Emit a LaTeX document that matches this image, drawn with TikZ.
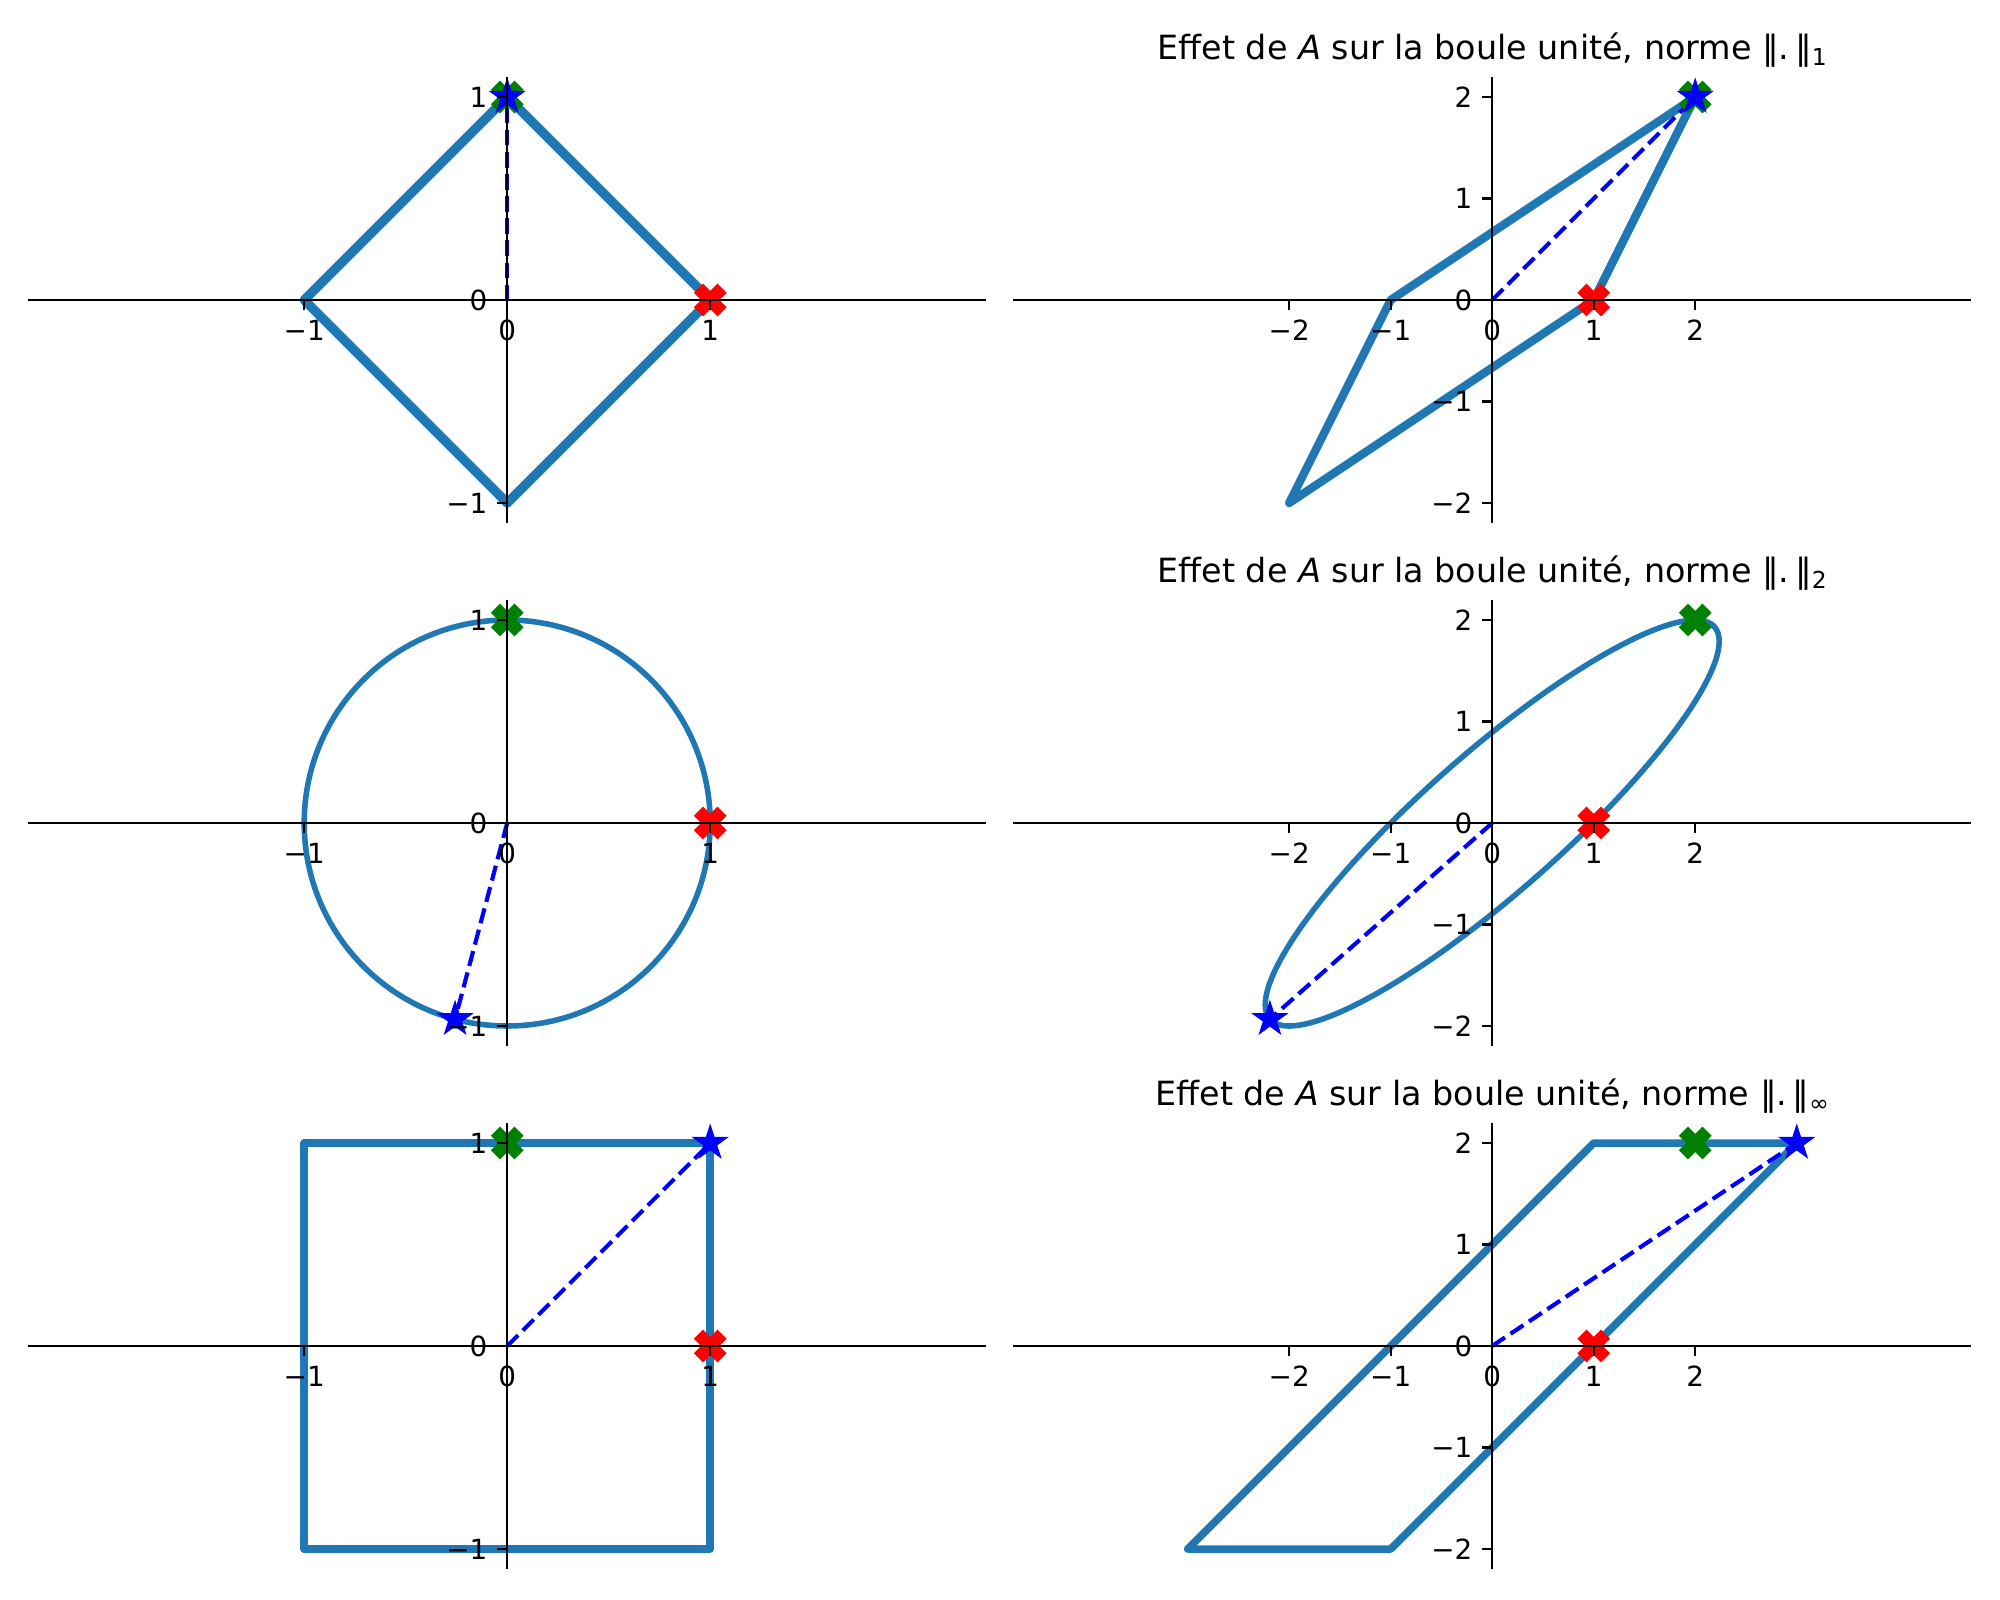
\documentclass[tikz,border=0pt]{standalone}
\usepackage{fontspec}
\setmainfont{DejaVu Sans}
\definecolor{tabblue}{HTML}{1F77B4}
\definecolor{mplgreen}{HTML}{008000}
\definecolor{mplred}{HTML}{FF0000}
\definecolor{mplblue}{HTML}{0000FF}
\tikzset{
  spine/.style={line width=0.9bp, black},
  tickmark/.style={line width=0.8bp, black},
  ticklab/.style={inner sep=0pt, font=\fontsize{10bp}{12bp}\selectfont},
  titlelab/.style={inner sep=0pt, anchor=base, font=\fontsize{12bp}{14bp}\selectfont},
  ball/.style={line width=2.7bp, tabblue, line join=round, line cap=round},
  thinball/.style={line width=2bp, tabblue, line join=round},
  vecdash/.style={line width=1.5bp, mplblue, dash pattern=on 5.55bp off 2.4bp},
  xm/.pic={\filldraw[line width=1bp, rotate=45] (-1.833bp,-5.5bp)--(1.833bp,-5.5bp)--(1.833bp,-1.833bp)--(5.5bp,-1.833bp)--(5.5bp,1.833bp)--(1.833bp,1.833bp)--(1.833bp,5.5bp)--(-1.833bp,5.5bp)--(-1.833bp,1.833bp)--(-5.5bp,1.833bp)--(-5.5bp,-1.833bp)--(-1.833bp,-1.833bp)--cycle;},
  starm/.pic={\filldraw[line width=1bp] (90:5.4bp)--(126:2.06bp)--(162:5.4bp)--(198:2.06bp)--(234:5.4bp)--(270:2.06bp)--(306:5.4bp)--(342:2.06bp)--(18:5.4bp)--(54:2.06bp)--cycle;},
}
% #1 prefix, #2 xlim, #3 ylim, #4 xticks, #5 yticks
\newcommand\mplaxes[5]{%
  \draw[spine] (-#2,0) -- (#2,0);
  \draw[spine] (0,-#3) -- (0,#3);
  \foreach \v/\t [count=\k] in {#4} {
    \draw[tickmark] (\v,0) -- ++(0,-3.5bp);
    \node[ticklab, anchor=north, yshift=-7bp] (#1x\k) at (\v,0) {\t};
  }
  \foreach \v/\t [count=\k] in {#5} {
    \draw[tickmark] (0,\v) -- ++(-3.5bp,0);
    \node[ticklab, anchor=east, xshift=-7bp] (#1y\k) at (0,\v) {\t};
  }
}
\newcommand\normtitle[1]{Effet de \textit{A} sur la boule unité, norme ‖.\,‖\raisebox{-2.4bp}{\fontsize{8.4bp}{9bp}\selectfont #1}}
\begin{document}
\begin{tikzpicture}[x=0.36bp,y=-0.36bp]
\useasboundingbox (0,0) rectangle (2000,1600);

% ---------- Row 1 left : norme 1 ----------
\begin{scope}[shift={(507.2,300)}, x=73.08bp, y=73.08bp]
  \draw[ball, line width=3.4bp] (1,0)--(0,1)--(-1,0)--(0,-1)--cycle;
  \draw[vecdash] (0,0)--(0,1);
  \pic[mplred] at (1,0) {xm};
  \pic[mplgreen] at (0,1) {xm};
  \pic[mplblue] at (0,1) {starm};
  \mplaxes{a}{2.359}{1.1}{-1/−1,0/0,1/1}{-1/−1,0/0,1/1}
\end{scope}

% ---------- Row 1 right ----------
\begin{scope}[shift={(1492.2,300)}, x=36.54bp, y=36.54bp]
  \draw[ball, line width=3bp] (1,0)--(2,2)--(-1,0)--(-2,-2)--cycle;
  \draw[vecdash] (0,0)--(2,2);
  \pic[mplred] at (1,0) {xm};
  \pic[mplgreen] at (2,2) {xm};
  \pic[mplblue] at (2,2) {starm};
  \mplaxes{b}{4.717}{2.2}{-2/−2,-1/−1,0/0,1/1,2/2}{-2/−2,-1/−1,0/0,1/1,2/2}
\end{scope}
\node[titlelab] (t1) at (1492.2,59.3) {\normtitle{1}};

% ---------- Row 2 left : norme 2 ----------
\begin{scope}[shift={(507.2,823)}, x=73.08bp, y=73.08bp]
  \draw[thinball] (0,0) circle (1);
  \draw[vecdash] (0,0)--(-0.2567,-0.9666);
  \pic[mplred] at (1,0) {xm};
  \pic[mplgreen] at (0,1) {xm};
  \pic[mplblue] at (-0.2567,-0.9666) {starm};
  \mplaxes{c}{2.359}{1.1}{-1/−1,0/0,1/1}{-1/−1,0/0,1/1}
\end{scope}

% ---------- Row 2 right ----------
\begin{scope}[shift={(1492.2,823)}, x=36.54bp, y=36.54bp]
  \draw[thinball] plot[domain=0:360, samples=240, smooth cycle] ({cos(\x)+2*sin(\x)},{2*sin(\x)});
  \draw[vecdash] (0,0)--(-2.190,-1.933);
  \pic[mplred] at (1,0) {xm};
  \pic[mplgreen] at (2,2) {xm};
  \pic[mplblue] at (-2.190,-1.933) {starm};
  \mplaxes{d}{4.717}{2.2}{-2/−2,-1/−1,0/0,1/1,2/2}{-2/−2,-1/−1,0/0,1/1,2/2}
\end{scope}
\node[titlelab] (t2) at (1492.2,582.3) {\normtitle{2}};

% ---------- Row 3 left : norme infinie ----------
\begin{scope}[shift={(507.2,1346)}, x=73.08bp, y=73.08bp]
  \draw[ball] (1,1)--(-1,1)--(-1,-1)--(1,-1)--cycle;
  \draw[vecdash] (0,0)--(1,1);
  \pic[mplred] at (1,0) {xm};
  \pic[mplgreen] at (0,1) {xm};
  \pic[mplblue] at (1,1) {starm};
  \mplaxes{e}{2.359}{1.1}{-1/−1,0/0,1/1}{-1/−1,0/0,1/1}
\end{scope}

% ---------- Row 3 right ----------
\begin{scope}[shift={(1492.2,1346)}, x=36.54bp, y=36.54bp]
  \draw[ball] (3,2)--(1,2)--(-3,-2)--(-1,-2)--cycle;
  \draw[vecdash] (0,0)--(3,2);
  \pic[mplred] at (1,0) {xm};
  \pic[mplgreen] at (2,2) {xm};
  \pic[mplblue] at (3,2) {starm};
  \mplaxes{f}{4.717}{2.2}{-2/−2,-1/−1,0/0,1/1,2/2}{-2/−2,-1/−1,0/0,1/1,2/2}
\end{scope}
\node[titlelab] (t3) at (1492.2,1105.3) {\normtitle{∞}};

\end{tikzpicture}
\end{document}
